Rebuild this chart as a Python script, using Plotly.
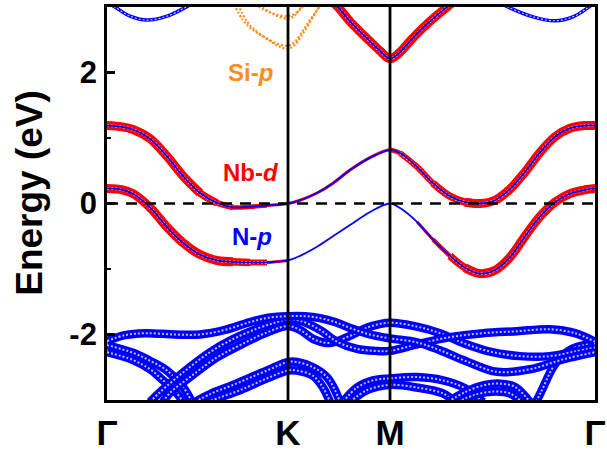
import plotly.graph_objects as go

# ---------------- data ----------------
k_labels = ["Γ", "K", "M", "Γ"]
k_ticks = [0.0, 1.81, 2.83, 4.88]
energy_ticks = [-2, 0, 2]
energy_labels = ["-2", "0", "2"]

# conduction (Nb-d / N-p) bands sampled on a common k grid
k_cond = [0.00, 0.15, 0.26, 0.43, 0.60, 0.76, 0.93, 1.10, 1.26, 1.43, 1.60, 1.81,
          1.93, 2.10, 2.26, 2.43, 2.63, 2.83,
          2.93, 3.10, 3.26, 3.43, 3.58, 3.73, 3.88, 4.03, 4.18, 4.33, 4.48, 4.63, 4.78, 4.88]
nb_upper = [1.19, 1.17, 1.13, 0.99, 0.72, 0.42, 0.16, 0.01, -0.06, -0.05, -0.03, 0.00,
            0.05, 0.16, 0.31, 0.51, 0.70, 0.82,
            0.77, 0.56, 0.31, 0.11, 0.02, 0.00, 0.05, 0.22, 0.48, 0.78, 1.02, 1.15, 1.19, 1.19]
nb_upper_weight = [1, 1, 1, 1, 1, 1, 1, 0.9, 0.6, 0.5, 0.4, 0.3,
                   0.3, 0.3, 0.3, 0.3, 0.3, 0.4,
                   0.6, 0.7, 0.8, 0.9, 1, 1, 1, 1, 1, 1, 1, 1, 1, 1]
nb_lower = [0.23, 0.21, 0.15, -0.06, -0.36, -0.60, -0.78, -0.87, -0.89, -0.90, -0.90, -0.87,
            -0.80, -0.66, -0.50, -0.33, -0.13, 0.00,
            -0.07, -0.28, -0.55, -0.80, -0.98, -1.07, -1.02, -0.82, -0.50, -0.20, 0.02, 0.15, 0.21, 0.23]
nb_lower_weight = [1, 1, 1, 1, 1, 1, 1, 1, 1, 0.9, 0.6, 0.3,
                   0.1, 0.1, 0.1, 0.1, 0.1, 0.1,
                   0.1, 0.2, 0.5, 0.8, 1, 1, 1, 1, 1, 1, 1, 1, 1, 1]

# Nb-d band above 2 eV around M
k_nb_top = [2.25, 2.31, 2.43, 2.60, 2.73, 2.83, 2.93, 3.03, 3.20, 3.40, 3.48]
nb_top = [3.08, 3.00, 2.78, 2.52, 2.33, 2.21, 2.31, 2.48, 2.74, 3.00, 3.10]

# N-p band near the top around Gamma
k_np_top_left = [0.00, 0.08, 0.23, 0.40, 0.60, 0.78, 0.93]
np_top_left = [3.07, 3.00, 2.86, 2.80, 2.86, 2.99, 3.12]
k_np_top_right = [3.86, 4.01, 4.26, 4.48, 4.66, 4.80, 4.88]
np_top_right = [3.12, 3.00, 2.85, 2.79, 2.85, 2.98, 3.07]

# Si-p bands around K
k_si_a = [1.27, 1.36, 1.46, 1.60, 1.70, 1.81, 1.88, 1.95, 2.02, 2.10, 2.14]
si_a = [3.04, 2.80, 2.65, 2.52, 2.44, 2.41, 2.47, 2.62, 2.78, 2.95, 3.04]
k_si_b = [1.31, 1.40, 1.50, 1.63, 1.72, 1.81, 1.87, 1.94, 2.01, 2.08, 2.12]
si_b = [3.04, 2.78, 2.62, 2.48, 2.40, 2.36, 2.41, 2.55, 2.72, 2.90, 3.00]
k_si_c = [1.48, 1.58, 1.68, 1.81, 1.88, 1.93, 1.97]
si_c = [3.04, 2.95, 2.89, 2.86, 2.90, 2.96, 3.03]
k_si_d = [1.52, 1.62, 1.71, 1.81, 1.87, 1.91, 1.95]
si_d = [3.03, 2.93, 2.86, 2.82, 2.86, 2.93, 3.02]

# N-p valence bands
k_v1 = [0, 0.18, 0.38, 0.68, 0.93, 1.18, 1.43, 1.63, 1.81, 1.98, 2.13, 2.28, 2.43, 2.63, 2.83,
        3.10, 3.33, 3.58, 3.90, 4.23, 4.56, 4.88]
v1 = [-2.10, -2.01, -1.98, -2.00, -2.00, -1.93, -1.81, -1.74, -1.72, -1.72, -1.75, -1.81, -1.90, -2.00, -2.06,
      -2.12, -2.24, -2.40, -2.57, -2.53, -2.38, -2.27]
k_v2 = [0.43, 0.53, 0.76, 1.03, 1.26, 1.50, 1.68, 1.81, 1.93, 2.13, 2.30, 2.50, 2.68, 2.83,
        3.10, 3.43, 3.76, 4.10, 4.43, 4.68, 4.88]
v2 = [-3.03, -2.88, -2.58, -2.27, -2.07, -1.91, -1.82, -1.77, -1.79, -1.93, -2.11, -2.22, -2.25, -2.25,
      -2.15, -2.04, -1.98, -1.95, -1.92, -1.98, -2.11]
k_v3 = [0.56, 0.63, 0.83, 1.10, 1.36, 1.58, 1.81, 1.93, 2.08, 2.23, 2.43, 2.63, 2.83,
        3.10, 3.33, 3.58, 3.83, 4.13, 4.43, 4.68, 4.88]
v3 = [-3.03, -2.89, -2.65, -2.35, -2.14, -1.98, -1.87, -1.93, -2.08, -2.13, -2.02, -1.88, -1.82,
      -1.88, -1.98, -2.14, -2.26, -2.33, -2.33, -2.26, -2.20]
k_v4 = [0, 0.26, 0.43, 0.60, 0.76, 0.85]
v4 = [-2.16, -2.28, -2.40, -2.55, -2.80, -3.03]
k_v5 = [0, 0.26, 0.43, 0.56, 0.70, 0.76]
v5 = [-2.27, -2.39, -2.53, -2.70, -2.90, -3.03]
k_v6 = [0.88, 1.03, 1.26, 1.60, 1.81, 1.90, 2.06, 2.20, 2.28, 2.33]
v6 = [-3.03, -2.91, -2.77, -2.55, -2.42, -2.42, -2.50, -2.65, -2.85, -3.03]
k_v7 = [1.00, 1.13, 1.33, 1.60, 1.81, 1.90, 2.06, 2.16, 2.23]
v7 = [-3.03, -2.96, -2.85, -2.67, -2.55, -2.55, -2.63, -2.81, -3.03]
k_v8 = [2.36, 2.50, 2.66, 2.83, 3.10, 3.36, 3.58, 3.76]
v8 = [-3.03, -2.81, -2.70, -2.67, -2.65, -2.70, -2.82, -3.03]
k_v9 = [2.43, 2.60, 2.83, 3.10, 3.36, 3.48]
v9 = [-3.03, -2.85, -2.77, -2.81, -2.90, -3.03]
k_v10 = [3.41, 3.58, 3.78, 3.93, 4.08, 4.23]
v10 = [-3.03, -2.88, -2.77, -2.75, -2.80, -3.03]
k_v11 = [3.51, 3.68, 3.88, 4.03, 4.15]
v11 = [-3.03, -2.92, -2.87, -2.90, -3.03]
k_v12 = [4.29, 4.34, 4.46, 4.55, 4.65, 4.78, 4.88]
v12 = [-3.03, -2.88, -2.50, -2.33, -2.22, -2.16, -2.14]

labels_text = ["Si-<i>p</i>", "Nb-<i>d</i>", "N-<i>p</i>"]
labels_k = [1.43, 1.44, 1.45]
labels_e = [2.00, 0.47, -0.50]

# ---------------- styles ----------------
RED = "#FF0000"
BLUE = "#0000FF"
ORANGE = "#FF8C1A"
FONT = "Liberation Sans, Arial, sans-serif"

fig = go.Figure()


def line(k, e, color, width, dash="solid"):
    fig.add_trace(go.Scatter(x=k, y=e, mode="lines", hoverinfo="skip",
                             line=dict(color=color, width=width, dash=dash, shape="spline", smoothing=1.0)))


def runs(w, t):
    out, cur = [], []
    for i, v in enumerate(w):
        if v >= t:
            cur.append(i)
        else:
            if len(cur) >= 2:
                out.append(cur)
            cur = []
    if len(cur) >= 2:
        out.append(cur)
    return out


def fat_nb(k, e, w):
    for t in [0.2, 0.4, 0.6, 0.8, 1.0]:
        for r in runs(w, t):
            line([k[i] for i in r], [e[i] for i in r], RED, 1.5 + 7.5 * t)
    for r in runs(w, 0.6):
        line([k[i] for i in r], [e[i] for i in r], "rgba(255,255,255,0.85)", 2.6, "2px,2px")
    line(k, e, BLUE, 1.8)


# valence N-p bands
for kk, ee in [(k_v6, v6), (k_v7, v7), (k_v8, v8), (k_v9, v9), (k_v10, v10), (k_v11, v11),
               (k_v4, v4), (k_v5, v5), (k_v12, v12), (k_v3, v3), (k_v2, v2), (k_v1, v1)]:
    line(kk, ee, BLUE, 8.5)
    line(kk, ee, "rgba(235,235,255,0.8)", 2.0, "2px,2px")

# top N-p band
for kk, ee in [(k_np_top_left, np_top_left), (k_np_top_right, np_top_right)]:
    line(kk, ee, BLUE, 3.5)
    line(kk, ee, "rgba(255,255,255,0.8)", 1.2, "2px,2px")

# Si-p bands
for kk, ee in [(k_si_a, si_a), (k_si_b, si_b), (k_si_c, si_c), (k_si_d, si_d)]:
    line(kk, ee, ORANGE, 2.2, "2px,2px")

# Nb-d bands
fat_nb(k_cond, nb_lower, nb_lower_weight)
fat_nb(k_cond, nb_upper, nb_upper_weight)
fat_nb(k_nb_top, nb_top, [1] * len(nb_top))

# high-symmetry lines and Fermi level
for kx in k_ticks[1:-1]:
    fig.add_shape(type="line", xref="x", yref="paper", x0=kx, x1=kx, y0=0, y1=1,
                  line=dict(color="black", width=2.8))
fig.add_shape(type="line", xref="paper", yref="y", x0=0, x1=1, y0=0, y1=0,
              line=dict(color="black", width=2.5, dash="11px,8px"))

for txt, kx, ey, col in zip(labels_text, labels_k, labels_e, [ORANGE, RED, BLUE]):
    fig.add_annotation(x=kx, y=ey, xref="x", yref="y", text="<b>" + txt + "</b>", showarrow=False,
                       font=dict(family=FONT, size=24, color=col), xanchor="center", yanchor="middle")

fig.add_annotation(x=-0.158, y=0.527, xref="paper", yref="paper", text="<b>Energy (eV)</b>",
                   textangle=-90, showarrow=False, font=dict(family=FONT, size=37, color="black"),
                   xanchor="center", yanchor="middle")

fig.update_layout(width=607, height=457, margin=dict(l=107, r=12, t=7, b=57, autoexpand=False),
                  paper_bgcolor="white", plot_bgcolor="white", showlegend=False,
                  font=dict(family=FONT, color="black"))
fig.update_xaxes(range=[k_ticks[0], k_ticks[-1]], tickvals=k_ticks, ticktext=k_labels, ticks="",
                 showgrid=False, zeroline=False, showline=True, mirror=True, linecolor="black",
                 linewidth=2.8, tickfont=dict(family=FONT, size=35, weight="bold", color="black"),
                 ticklabelstandoff=0, automargin=False)
fig.update_yaxes(range=[-3, 3], tickvals=energy_ticks, ticktext=energy_labels, ticks="inside",
                 ticklen=8, tickwidth=2.8, tickcolor="black",
                 minor=dict(ticks="inside", ticklen=4, tickwidth=2, tickcolor="black", dtick=1, tick0=1),
                 showgrid=False, zeroline=False, showline=True, mirror=True, linecolor="black",
                 linewidth=2.8, tickfont=dict(family=FONT, size=31, weight="bold", color="black"),
                 ticklabelstandoff=1, automargin=False)

fig.write_html("out.html")
